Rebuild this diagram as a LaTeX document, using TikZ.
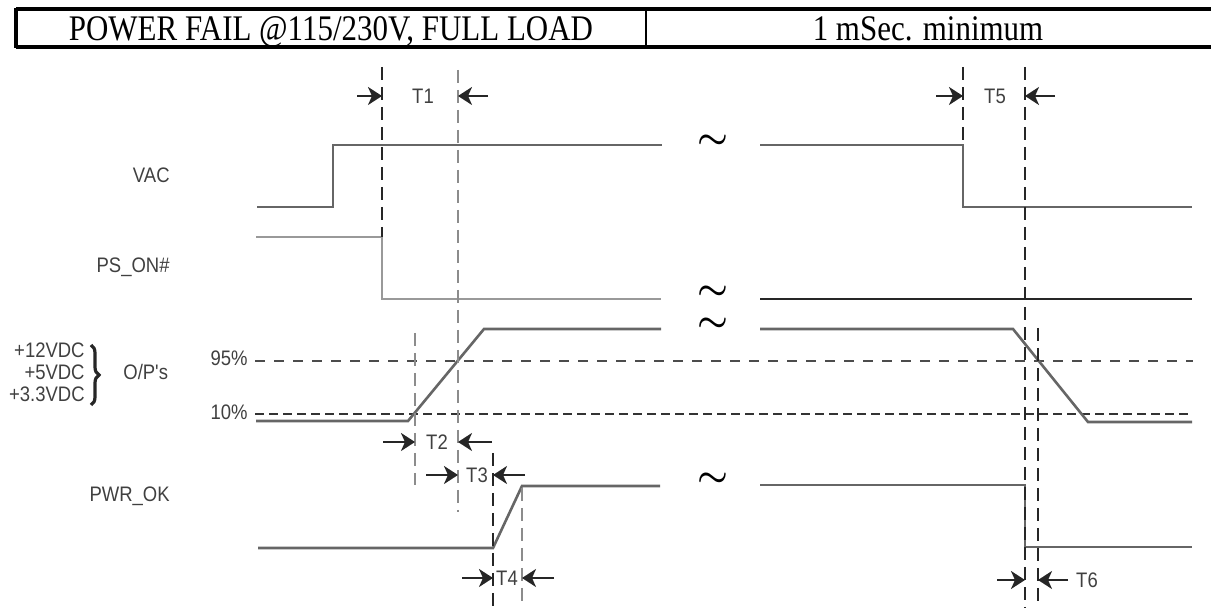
\documentclass[tikz,border=0pt]{standalone}
\usepackage{fontspec}
\newfontfamily\hdrfont[FakeStretch=0.86]{Liberation Serif}
\newfontfamily\lblfont[FakeStretch=0.88]{Liberation Sans}
\usetikzlibrary{arrows.meta,decorations.pathreplacing}
\tikzset{
  hdr/.style   ={font=\hdrfont\fontsize{18}{18}\selectfont, inner sep=0pt},
  rule/.style  ={line width=2pt},
  lbl/.style   ={font=\lblfont\fontsize{10.5}{10.5}\selectfont, text=black!75, inner sep=0pt},
  sig/.style   ={draw=black!60, line width=1.3pt},
  sigdk/.style ={sig, draw=black!85},
  siglt/.style ={sig, draw=black!40},
  lvlhi/.style ={draw=black!70, line width=1pt, dash pattern=on 5pt off 4.5pt},
  lvllo/.style ={draw=black!80, line width=1.3pt, dash pattern=on 4.5pt off 2.5pt},
  vmark/.style ={draw=black!85, line width=1pt, dash pattern=on 6.5pt off 3.5pt},
  vmklt/.style ={vmark, draw=black!45},
  tarr/.style  ={-{Stealth[length=7pt,width=9pt,inset=2pt]}, line width=1.1pt, black!85},
  brk/.style   ={font=\boldmath\fontsize{17}{17}\selectfont, inner sep=0pt},
}

\begin{document}
\begin{tikzpicture}[x=0.5pt,y=-0.5pt]
  \useasboundingbox (0,0) rectangle (1211,608);

  % ---- header row ----------------------------------------------------
  \draw[rule] (16,9) -- (1211,9);
  \draw[rule] (16,47) -- (1211,47);
  \draw[rule] (16,8) -- (16,48);
  \draw[line width=1pt] (646,9) -- (646,47);
  \node[hdr, anchor=base] (fail) at (331,41) {POWER FAIL @115/230V, FULL LOAD};
  \node[hdr, anchor=base] (hold) at (928,41) {1 mSec. minimum};

  % ---- signal names --------------------------------------------------
  \node[lbl, anchor=base east] (vac)   at (170,183) {VAC};
  \node[lbl, anchor=base east] (pson)  at (170,273) {PS\_ON\#};
  \node[lbl, anchor=base east] (v12)   at (85,358) {+12VDC};
  \node[lbl, anchor=base east] (v5)    at (85,380) {+5VDC};
  \node[lbl, anchor=base east] (v33)   at (85,402) {+3.3VDC};
  \draw[line width=1.6pt, black!85, decorate, decoration={brace, amplitude=4pt}]
        (91,345) -- (91,405);
  \node[lbl, anchor=base west] (ops)   at (123,380) {O/P's};
  \node[lbl, anchor=base east] (pwrok) at (170,502) {PWR\_OK};
  \node[lbl, anchor=base east] (p95)   at (248,366) {95\%};
  \node[lbl, anchor=base east] (p10)   at (248,420) {10\%};

  % ---- thresholds ----------------------------------------------------
  \draw[lvlhi] (255,361) -- (1193,361);
  \draw[lvllo] (255,414) -- (1193,414);

  % ---- waveforms -----------------------------------------------------
  \draw[sig]   (257,207) -- (333,207) -- (333,145) -- (662,145);
  \draw[sig]   (760,145) -- (963,145) -- (963,207) -- (1192,207);
  \draw[siglt] (256,237) -- (382,237) -- (382,299) -- (661,299);
  \draw[sigdk] (760,299) -- (1192,299);
  \draw[sig]   (256,421) -- (408,421) -- (484,329) -- (661,329);
  \draw[sig]   (760,329) -- (1013,329) -- (1088,422) -- (1192,422);
  \draw[sig]   (258,548) -- (493,548) -- (522,486) -- (660,486);
  \draw[sig]   (760,485) -- (1025,485) -- (1025,547) -- (1192,547);

  \foreach \y in {142,293,325,480}
    \node[brk] (brk\y) at (713,\y) {$\sim$};

  % ---- timing marks --------------------------------------------------
  \draw[vmark] (382,67) -- (382,237);
  \draw[vmklt] (458,70) -- (458,512);
  \draw[vmklt] (415,333) -- (415,485);
  \draw[vmark] (493,453) -- (493,608);
  \draw[vmklt] (522,488) -- (522,608);
  \draw[vmark] (963,67) -- (963,145);
  \draw[vmark] (1025,67) -- (1025,608);
  \draw[vmark] (1038,328) -- (1038,608);

  % ---- intervals -----------------------------------------------------
  \node[lbl] (t1) at (423,96) {T1};
  \draw[tarr] (357,96) -- (382,96);
  \draw[tarr] (488,96) -- (458,96);

  \node[lbl] (t5) at (995,96) {T5};
  \draw[tarr] (936,96) -- (963,96);
  \draw[tarr] (1055,96) -- (1025,96);

  \node[lbl] (t2) at (437,442) {T2};
  \draw[tarr] (383,442) -- (415,442);
  \draw[tarr] (492,442) -- (458,442);

  \node[lbl] (t3) at (477,475) {T3};
  \draw[tarr] (426,475) -- (458,475);
  \draw[tarr] (525,475) -- (493,475);

  \node[lbl] (t4) at (507,578) {T4};
  \draw[tarr] (462,578) -- (493,578);
  \draw[tarr] (554,578) -- (522,578);

  \node[lbl] (t6) at (1087,580) {T6};
  \draw[tarr] (997,580) -- (1025,580);
  \draw[tarr] (1068,580) -- (1038,580);
\end{tikzpicture}
\end{document}
